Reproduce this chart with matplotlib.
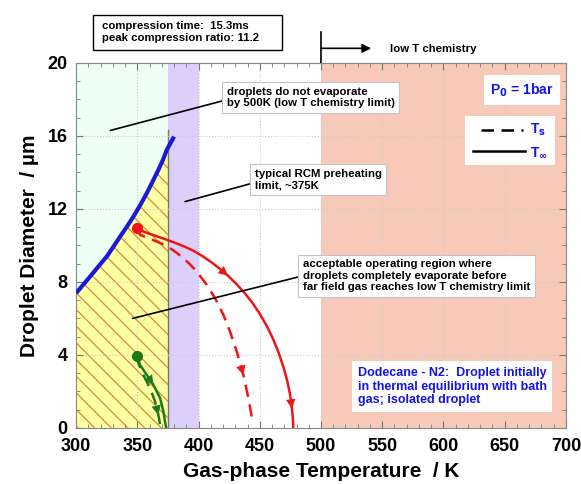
import matplotlib

matplotlib.use("Agg")
import matplotlib.pyplot as plt
import numpy as np
from matplotlib.ticker import MultipleLocator

plt.rcParams["font.family"] = ["Liberation Sans", "DejaVu Sans"]
plt.rcParams["font.weight"] = "bold"
plt.rcParams["hatch.linewidth"] = 0.9

# temperature bands [K]
T_PREHEAT = 375
T_RCM_BAND = (375, 400)
T_LOWT = 500

# droplet size that just evaporates by the low-T chemistry limit
limit_T = [300, 305.5, 311.4, 318.0, 325.0, 330.5, 335.9, 341.4, 346.8, 352.3,
           357.7, 362.5, 367.2, 371.0, 374.0, 377.2, 380.0]
limit_D = [7.38, 7.82, 8.29, 8.83, 9.39, 9.93, 10.48, 11.02, 11.58, 12.20,
           12.86, 13.50, 14.14, 14.70, 15.23, 15.62, 15.96]

# 11 um droplet trajectory (T_inf solid, T_s dashed)
big_Tinf = [350.0, 353.0, 358.0, 365.0, 372.0, 380.0, 388.0, 396.0, 403.0, 410.0,
            417.0, 424.0, 431.0, 438.0, 444.0, 450.0, 456.0, 461.0, 465.5, 469.5,
            472.5, 474.8, 476.3, 477.1, 477.4]
big_Dinf = [10.94, 10.82, 10.68, 10.52, 10.36, 10.16, 9.95, 9.70, 9.42, 9.10,
            8.74, 8.34, 7.88, 7.36, 6.85, 6.25, 5.55, 4.85, 4.10, 3.30,
            2.55, 1.80, 1.05, 0.45, 0.0]
big_Ts = [350.0, 352.2, 359.0, 365.9, 371.5, 376.7, 382.0, 387.6, 393.0, 398.5,
          406.7, 413.5, 420.3, 425.7, 431.2, 436.6, 440.7, 443.4]
big_Ds = [10.94, 10.58, 10.40, 10.21, 10.04, 9.85, 9.60, 9.30, 8.96, 8.57,
          7.84, 7.11, 6.19, 5.28, 4.18, 2.90, 1.63, 0.62]

# 4 um droplet trajectory
small_Tinf = [350.0, 352.2, 357.7, 363.1, 368.6, 371.3, 373.5]
small_Dinf = [3.95, 3.45, 2.90, 2.36, 1.63, 0.89, 0.0]
small_Ts = [350.0, 350.9, 354.9, 360.4, 364.5, 367.2, 368.6]
small_Ds = [3.95, 3.54, 2.90, 2.17, 1.44, 0.71, 0.16]

RED = "#f01414"
GREEN = "#1a7a1a"
BLUE_TXT = "#1414e6"
HATCH = "#d98a3a"


def arrow_on(ax, xs, ys, i, color):
    """Arrowhead along segment i -> i+1 of a trajectory."""
    ax.annotate("", xy=(xs[i + 1], ys[i + 1]), xytext=(xs[i], ys[i]), zorder=4,
                arrowprops=dict(arrowstyle="-|>", color=color, lw=0,
                                mutation_scale=17, shrinkA=0, shrinkB=0))


fig = plt.figure(figsize=(5.81, 4.84), dpi=100)
ax = fig.add_axes([0.131, 0.116, 0.843, 0.754])
ax.set_xlim(300, 700)
ax.set_ylim(0, 20)

ax.axvspan(300, T_PREHEAT, color="#eefff6", zorder=0, lw=0)
ax.axvspan(*T_RCM_BAND, color="#dcd0fb", zorder=0, lw=0)
ax.axvspan(T_LOWT, 700, color="#f7c9b8", zorder=0, lw=0)
ax.grid(True, which="major", color="#cccccc", ls=":", lw=0.8, zorder=0.5)

# acceptable operating region under the limit curve
lt = np.array(limit_T, float)
ld = np.array(limit_D, float)
top = np.interp(T_PREHEAT, lt, ld)
keep = lt < T_PREHEAT
poly_x = [300] + list(lt[keep]) + [T_PREHEAT, T_PREHEAT]
poly_y = [0] + list(ld[keep]) + [top, 0]
ax.fill(poly_x, poly_y, facecolor="#ffffa3", edgecolor=HATCH, lw=0, hatch="\\\\", zorder=1)
ax.plot([T_PREHEAT, T_PREHEAT], [0, 16.3], color="#777766", lw=1.0, zorder=1.5)

ax.plot(limit_T, limit_D, color="#1a1ad8", lw=3, zorder=3, solid_capstyle="butt")

ax.plot(big_Tinf, big_Dinf, color=RED, lw=1.8, zorder=3)
ax.plot(big_Ts, big_Ds, color=RED, lw=1.8, ls=(0, (5, 3)), zorder=3)
ax.plot(small_Tinf, small_Dinf, color=GREEN, lw=1.8, zorder=3)
ax.plot(small_Ts, small_Ds, color=GREEN, lw=1.8, ls=(0, (5, 3)), zorder=3)
ax.plot([big_Tinf[0]], [big_Dinf[0]], "o", color=RED, ms=7, zorder=4)
ax.plot([small_Tinf[0]], [small_Dinf[0]], "o", color=GREEN, ms=7, zorder=4)
arrow_on(ax, big_Tinf, big_Dinf, 10, RED)
arrow_on(ax, big_Tinf, big_Dinf, 21, RED)
arrow_on(ax, big_Ts, big_Ds, 14, RED)
arrow_on(ax, small_Tinf, small_Dinf, 2, GREEN)
arrow_on(ax, small_Ts, small_Ds, 4, GREEN)

ax.xaxis.set_major_locator(MultipleLocator(50))
ax.xaxis.set_minor_locator(MultipleLocator(10))
ax.yaxis.set_major_locator(MultipleLocator(4))
ax.yaxis.set_minor_locator(MultipleLocator(1))
ax.tick_params(which="both", direction="in", top=True, right=True, color="#777777")
ax.tick_params(which="major", length=5, labelsize=13)
ax.tick_params(which="minor", length=3)
ax.tick_params(axis="x", pad=7)
ax.tick_params(axis="y", pad=6)
for s in ax.spines.values():
    s.set_color("#888888")
    s.set_linewidth(0.8)
ax.set_xlabel("Gas-phase Temperature  / K", fontsize=15, fontweight="bold", labelpad=5)
ax.set_ylabel("Droplet Diameter  / \u00b5m", fontsize=15, fontweight="bold", labelpad=6)

box = dict(boxstyle="square,pad=0.4", fc="white", ec="#c4c4c4", lw=0.8)
note = dict(fontsize=8.2, fontweight="bold", zorder=6, va="center", ha="left")
line = dict(arrowstyle="-", color="black", lw=1.2, shrinkA=0, shrinkB=0)
ax.annotate("droplets do not evaporate\nby 500K (low T chemistry limit)",
            xy=(328, 16.3), xytext=(423, 18.1), bbox=box,
            arrowprops=dict(relpos=(0, 0.4), **line), **note)
ax.annotate("typical RCM preheating\nlimit, ~375K", xy=(389, 12.4), xytext=(446, 13.6),
            bbox=box, arrowprops=dict(relpos=(0, 0.37), **line), **note)
ax.annotate("acceptable operating region where\ndroplets completely evaporate before\n"
            "far field gas reaches low T chemistry limit",
            xy=(346.3, 6.0), xytext=(485, 8.33), bbox=box,
            arrowprops=dict(relpos=(0, 0.5), **line), **note)

ax.text(664, 18.5, "P$_\\mathbf{0}$ = 1bar", color=BLUE_TXT, fontsize=10, fontweight="bold",
        ha="center", va="center", zorder=6,
        bbox=dict(boxstyle="square,pad=0.45", fc="white", ec="none"))
ax.text(530, 2.26, "Dodecane - N2:  Droplet initially\nin thermal equilibrium with bath\n"
        "gas; isolated droplet", color=BLUE_TXT, fontsize=9, fontweight="bold",
        ha="left", va="center", zorder=6, linespacing=1.2,
        bbox=dict(boxstyle="square,pad=0.45", fc="white", ec="none"))

# line-style key
ax.add_patch(plt.Rectangle((617.6, 14.4), 73.4, 2.7, fc="white", ec="none", zorder=5))
ax.plot([631, 665], [16.3, 16.3], color="black", lw=1.8, ls=(0, (5, 3)), zorder=6)
ax.plot([624, 667], [15.15, 15.15], color="black", lw=1.8, zorder=6)
ax.text(671, 16.35, "T$_\\mathbf{s}$", color=BLUE_TXT, fontsize=10, fontweight="bold",
        va="center", zorder=6)
ax.text(671, 15.05, "T$_\\mathbf{\\infty}$", color=BLUE_TXT, fontsize=10, fontweight="bold",
        va="center", zorder=6)

# compression info and low-T chemistry marker above the frame
fig.add_artist(plt.Rectangle((0.160, 0.897), 0.325, 0.072, transform=fig.transFigure,
                             fc="white", ec="black", lw=1.0))
fig.text(0.1756, 0.934, "compression time:  15.3ms\npeak compression ratio: 11.2",
         fontsize=8.2, fontweight="bold", va="center", ha="left", linespacing=1.15)
ax.plot([T_LOWT, T_LOWT], [20, 21.72], color="black", lw=1.2, clip_on=False)
ax.annotate("", xy=(541, 20.8), xytext=(T_LOWT, 20.8), annotation_clip=False,
            arrowprops=dict(arrowstyle="-|>", color="black", lw=1.2, mutation_scale=13,
                            shrinkA=0, shrinkB=0))
ax.text(556, 20.78, "low T chemistry", fontsize=8.2, fontweight="bold", va="center")

fig.savefig("out.png", dpi=100)
